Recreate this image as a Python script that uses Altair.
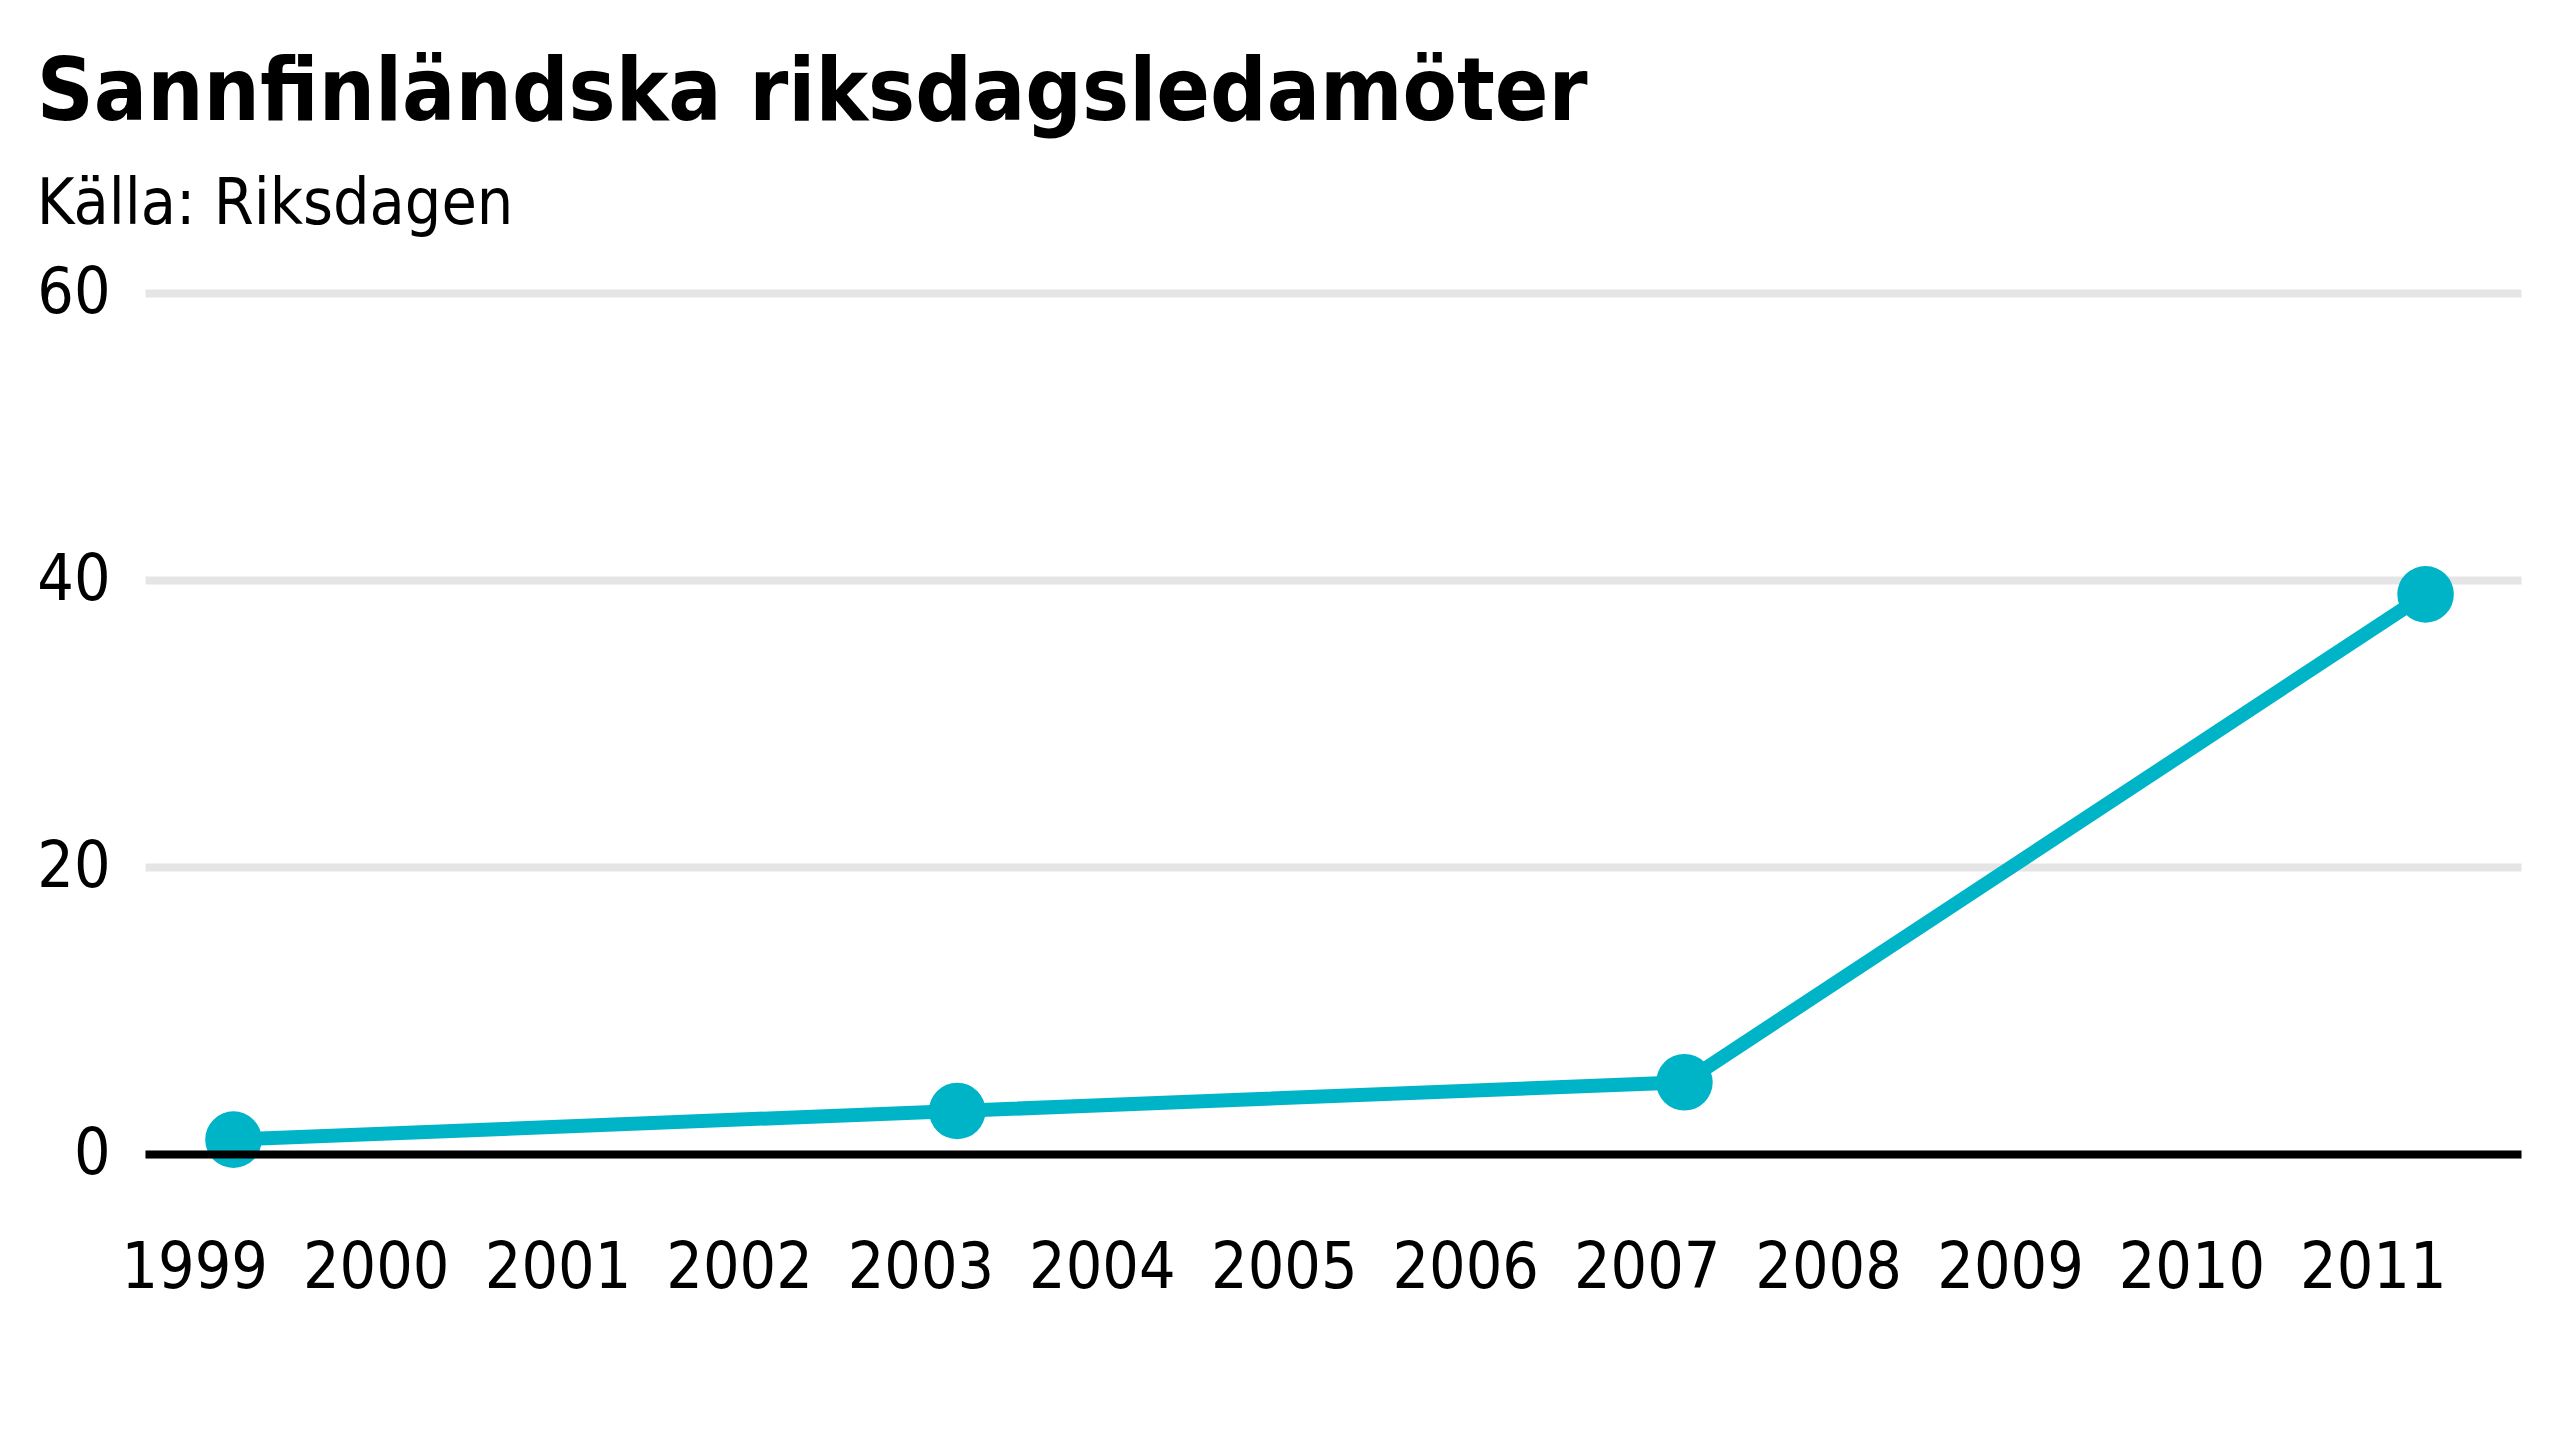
import altair as alt
import pandas as pd

# Data
election_dates = ["1999-03-21", "2003-03-16", "2007-03-18", "2011-04-17"]
seats = [1, 3, 5, 39]
year_ticks = [f"{y}-01-01" for y in range(1999, 2012)]
y_ticks = [0, 20, 40, 60]

df = pd.DataFrame({"datum": election_dates, "ledamoter": seats})

FONT = "DejaVu Sans Condensed, Liberation Sans Narrow, Roboto, sans-serif"
COLOR = "#00B4C8"

x_enc = alt.X(
    "datum:T",
    scale=alt.Scale(domain=["1998-09-24", "2011-10-26"], nice=False),
    axis=alt.Axis(
        values=year_ticks,
        format="%Y",
        title=None,
        ticks=False,
        grid=False,
        domain=True,
        domainColor="#000000",
        domainWidth=8,
        labelPadding=82,
        labelFontSize=64,
        labelFont=FONT,
        labelColor="#000000",
        labelAlign="center",
        labelFlush=False,
        labelOverlap=False,
        zindex=1,
    ),
)
y_enc = alt.Y(
    "ledamoter:Q",
    scale=alt.Scale(domain=[0, 60], nice=False),
    axis=alt.Axis(
        values=y_ticks,
        title=None,
        ticks=False,
        domain=False,
        grid=True,
        gridColor="#E5E5E5",
        gridWidth=8,
        labelPadding=35,
        labelFontSize=64,
        labelFont=FONT,
        labelColor="#000000",
        labelBaseline="middle",
    ),
)

line = alt.Chart(df).mark_line(color=COLOR, strokeWidth=14).encode(x=x_enc, y=y_enc)
points = alt.Chart(df).mark_circle(color=COLOR, size=3200, opacity=1).encode(x=x_enc, y=y_enc)

chart = (
    alt.layer(line, points)
    .properties(
        width=2376,
        height=861,
        padding={"left": 28, "top": 42, "right": 20, "bottom": 20},
        view=alt.ViewBackground(stroke="transparent", strokeWidth=0, strokeOpacity=0),
        title=alt.TitleParams(
            text="Sannfinländska riksdagsledamöter",
            subtitle="Källa: Riksdagen",
            anchor="start",
            frame="bounds",
            font=FONT,
            fontSize=88,
            fontWeight="bold",
            color="#000000",
            subtitleFont=FONT,
            subtitleFontSize=64,
            subtitleColor="#000000",
            subtitlePadding=35,
            offset=24,
        ),
    )
    .configure_view(stroke="transparent", strokeWidth=0, strokeOpacity=0)
    .configure_axisX(grid=False)
    .configure(background="#ffffff")
)

chart.save("out.html", embed_options={"renderer": "svg", "actions": False})
